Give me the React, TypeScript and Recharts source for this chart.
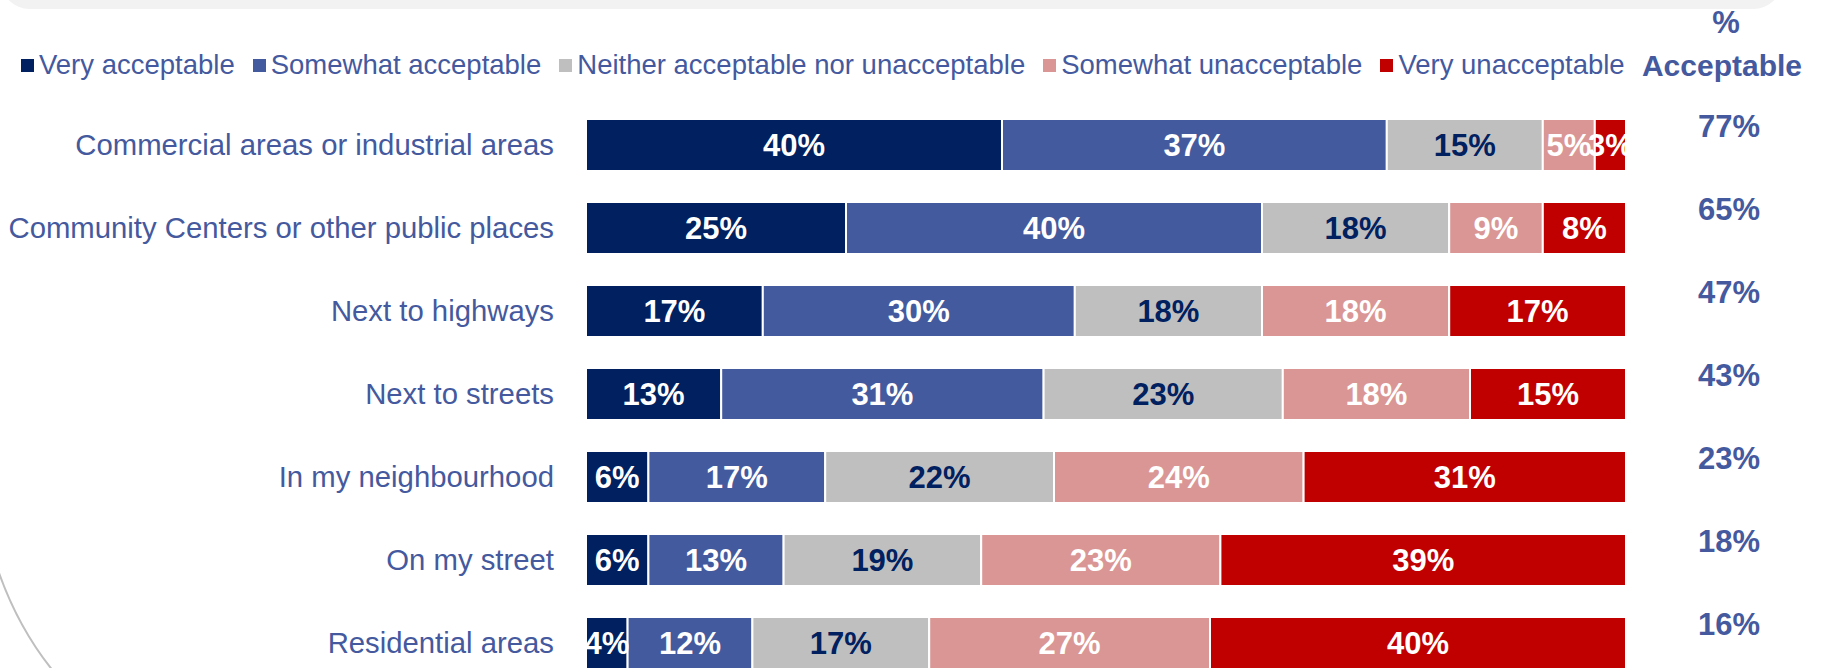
import React from "react";
import { BarChart, Bar, XAxis, YAxis, Legend, LabelList } from "recharts";

const categories = [
  "Commercial areas or industrial areas",
  "Community Centers or other public places",
  "Next to highways",
  "Next to streets",
  "In my neighbourhood",
  "On my street",
  "Residential areas",
];
const veryAcceptable = [40, 25, 17, 13, 6, 6, 4];
const somewhatAcceptable = [37, 40, 30, 31, 17, 13, 12];
const neither = [15, 18, 18, 23, 22, 19, 17];
const somewhatUnacceptable = [5, 9, 18, 18, 24, 23, 27];
const veryUnacceptable = [3, 8, 17, 15, 31, 39, 40];
const acceptable = [77, 65, 47, 43, 23, 18, 16];

const seriesNames = [
  "Very acceptable",
  "Somewhat acceptable",
  "Neither acceptable nor unacceptable",
  "Somewhat unacceptable",
  "Very unacceptable",
];
const seriesKeys = ["va", "sa", "ne", "su", "vu"];
const seriesColors = ["#002060", "#445A9E", "#BFBFBF", "#DA9694", "#C00000"];
const labelColors = ["#FFFFFF", "#FFFFFF", "#002060", "#FFFFFF", "#FFFFFF"];

const data = categories.map((name, i) => ({
  name,
  va: veryAcceptable[i],
  sa: somewhatAcceptable[i],
  ne: neither[i],
  su: somewhatUnacceptable[i],
  vu: veryUnacceptable[i],
  acceptable: acceptable[i],
}));

const FONT = "'Liberation Sans', Arial, sans-serif";
const TEXT_BLUE = "#44599E";

const LegendContent = () => {
  return (
    <div
      style={{
        position: "absolute",
        top: 49,
        left: 21,
        display: "flex",
        alignItems: "center",
        height: 32,
        fontFamily: FONT,
        fontSize: 27.5,
        color: TEXT_BLUE,
        whiteSpace: "nowrap",
      }}
    >
      {seriesNames.map((name, i) => (
        <div key={i} style={{ display: "flex", alignItems: "center", marginRight: 18 }}>
          <div style={{ width: 13, height: 13, background: seriesColors[i], marginRight: 5 }} />
          <span style={{ lineHeight: "32px" }}>{name}</span>
        </div>
      ))}
    </div>
  );
};

const AcceptableLabel = (props: any) => {
  const { x, y, width, height, value } = props;
  return (
    <text
      x={Number(x) + Number(width) + 103}
      y={Number(y) + Number(height) / 2 - 19}
      textAnchor="middle"
      dominantBaseline="central"
      fill={TEXT_BLUE}
      fontFamily={FONT}
      fontWeight="bold"
      fontSize={31}
    >
      {value}%
    </text>
  );
};

export default function App() {
  return (
    <div
      style={{
        position: "absolute",
        left: 0,
        top: 0,
        width: 1837,
        height: 668,
        overflow: "hidden",
        background: "#FFFFFF",
      }}
    >
      <svg
        width={1837}
        height={668}
        style={{ position: "absolute", left: 0, top: 0 }}
      >
        <rect x={0} y={-50} width={1783} height={59} rx={30} ry={30} fill="#F2F2F2" />
        <path d="M -2 570 Q 18 628 54 672" stroke="#BFBFBF" strokeWidth={2} fill="none" />
        <text x={1726} y={33} textAnchor="middle" fill={TEXT_BLUE} fontFamily={FONT} fontWeight="bold" fontSize={31}>
          %
        </text>
        <text x={1722} y={76} textAnchor="middle" fill={TEXT_BLUE} fontFamily={FONT} fontWeight="bold" fontSize={30}>
          Acceptable
        </text>
      </svg>
      <div style={{ position: "absolute", left: 0, top: 0 }}>
        <BarChart
          width={1837}
          height={700}
          data={data}
          layout="vertical"
          margin={{ top: 103, right: 211, bottom: 16, left: 0 }}
        >
          <XAxis type="number" domain={[0, 100]} hide />
          <YAxis
            type="category"
            dataKey="name"
            width={586}
            axisLine={false}
            tickLine={false}
            tickSize={0}
            tickMargin={32}
            tick={{ fill: TEXT_BLUE, fontSize: 29.3, fontFamily: FONT }}
            interval={0}
          />
          <Legend
            verticalAlign="top"
            align="left"
            content={LegendContent}
            wrapperStyle={{ top: 0, left: 0, height: 0, width: 1837 }}
          />
          {seriesKeys.map((k, i) => (
            <Bar
              key={k}
              dataKey={k}
              name={seriesNames[i]}
              stackId="a"
              fill={seriesColors[i]}
              stroke="#FFFFFF"
              strokeWidth={2}
              barSize={52}
              isAnimationActive={false}
            >
              <LabelList
                dataKey={k}
                position="center"
                formatter={(v: any) => `${v}%`}
                fill={labelColors[i]}
                fontSize={31}
                fontWeight="bold"
                fontFamily={FONT}
              />
              {i === seriesKeys.length - 1 ? (
                <LabelList dataKey="acceptable" content={AcceptableLabel} />
              ) : null}
            </Bar>
          ))}
        </BarChart>
      </div>
    </div>
  );
}
